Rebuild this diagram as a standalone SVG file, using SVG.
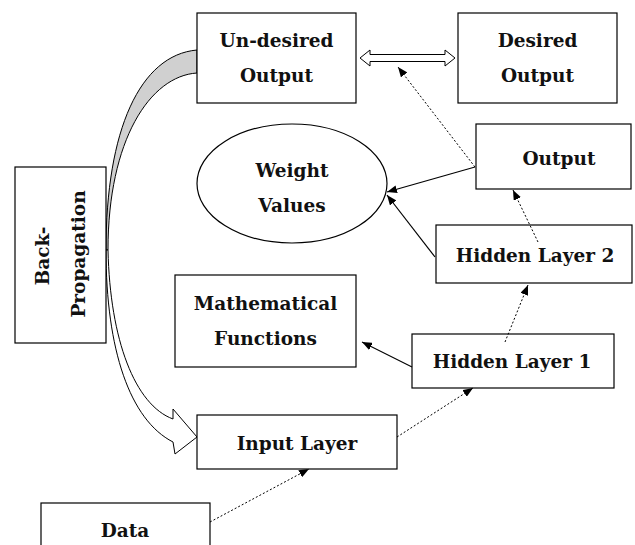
<svg xmlns="http://www.w3.org/2000/svg" width="635" height="545" viewBox="0 0 635 545">
  <style>
    .box { fill: #ffffff; stroke: #000000; stroke-width: 1.2; }
    .lbl { font-family: "DejaVu Serif", "Liberation Serif", serif; font-weight: bold; font-size: 18.5px; fill: #111111; text-anchor: middle; }
    .solid { stroke: #000000; stroke-width: 1.2; fill: none; marker-end: url(#head); }
    .dot { stroke: #000000; stroke-width: 1; stroke-dasharray: 2 2; fill: none; marker-end: url(#head); }
    .band { stroke: #000000; stroke-width: 1; }
  </style>
  <defs>
    <marker id="head" viewBox="0 0 10 8" refX="10" refY="4" markerWidth="10" markerHeight="8" markerUnits="userSpaceOnUse" orient="auto">
      <path d="M0,0 L10,4 L0,8 Z" fill="#000000"/>
    </marker>
  </defs>
  <rect width="635" height="545" fill="#ffffff"/>

  <!-- feedback arrow: shaded upper half, white lower half ending in a head -->
  <g id="backprop-arrow">
    <path class="band" fill="#d0d0d0" d="M197,50 C140,55 106,130 106,250 L108,250 C108,140 150,76 197,73 Z"/>
    <path class="band" fill="#ffffff" d="M106,250 C106,350 130,420 173,442 L175,454 L197,437 L173,409 L173,419 C135,405 110,340 108,250 Z"/>
  </g>

  <g id="n-undesired">
    <rect class="box" x="197" y="13" width="159" height="90"/>
    <text class="lbl" x="276.5" y="47">Un-desired</text>
    <text class="lbl" x="276.5" y="82">Output</text>
  </g>
  <g id="n-desired">
    <rect class="box" x="458" y="13" width="159" height="90"/>
    <text class="lbl" x="537.5" y="47">Desired</text>
    <text class="lbl" x="537.5" y="82">Output</text>
  </g>
  <g id="n-output">
    <rect class="box" x="476" y="124" width="155" height="65"/>
    <text class="lbl" x="559" y="165">Output</text>
  </g>
  <g id="n-weights">
    <ellipse class="box" cx="292" cy="183.5" rx="95" ry="59.5"/>
    <text class="lbl" x="292" y="177">Weight</text>
    <text class="lbl" x="292" y="212">Values</text>
  </g>
  <g id="n-backprop">
    <rect class="box" x="15" y="167" width="91" height="176"/>
    <text class="lbl" transform="translate(49,256) rotate(-90)" x="0" y="0">Back-</text>
    <text class="lbl" transform="translate(85,254) rotate(-90)" x="0" y="0">Propagation</text>
  </g>
  <g id="n-math">
    <rect class="box" x="175" y="275" width="181" height="92"/>
    <text class="lbl" x="265.5" y="310">Mathematical</text>
    <text class="lbl" x="265.5" y="345">Functions</text>
  </g>
  <g id="n-hidden2">
    <rect class="box" x="436" y="225" width="196" height="58"/>
    <text class="lbl" x="535" y="262">Hidden Layer 2</text>
  </g>
  <g id="n-hidden1">
    <rect class="box" x="412" y="334" width="202" height="54"/>
    <text class="lbl" x="512" y="368">Hidden Layer 1</text>
  </g>
  <g id="n-input">
    <rect class="box" x="197" y="415" width="200" height="54"/>
    <text class="lbl" x="297" y="450">Input Layer</text>
  </g>
  <g id="n-data">
    <rect class="box" x="41" y="503" width="169" height="60"/>
    <text class="lbl" x="125" y="537">Data</text>
  </g>

  <g id="connectors">
    <!-- comparison between actual and expected output -->
    <path fill="#ffffff" stroke="#000000" stroke-width="1" d="M360,58 L370,50 L370,54.5 L445,54.5 L445,50 L455,58 L445,66 L445,61.5 L370,61.5 L370,66 Z"/>
    <line class="dot" x1="475" y1="167" x2="398" y2="67"/>
    <line class="solid" x1="475" y1="167" x2="387" y2="192"/>
    <line class="solid" x1="435" y1="257" x2="387" y2="195"/>
    <line class="dot" x1="538" y1="242" x2="513" y2="190"/>
    <line class="dot" x1="505" y1="342" x2="528" y2="285"/>
    <line class="solid" x1="412" y1="367" x2="362" y2="342"/>
    <line class="dot" x1="397" y1="437" x2="473" y2="388"/>
    <line class="dot" x1="210" y1="522" x2="309" y2="469"/>
  </g>
</svg>
